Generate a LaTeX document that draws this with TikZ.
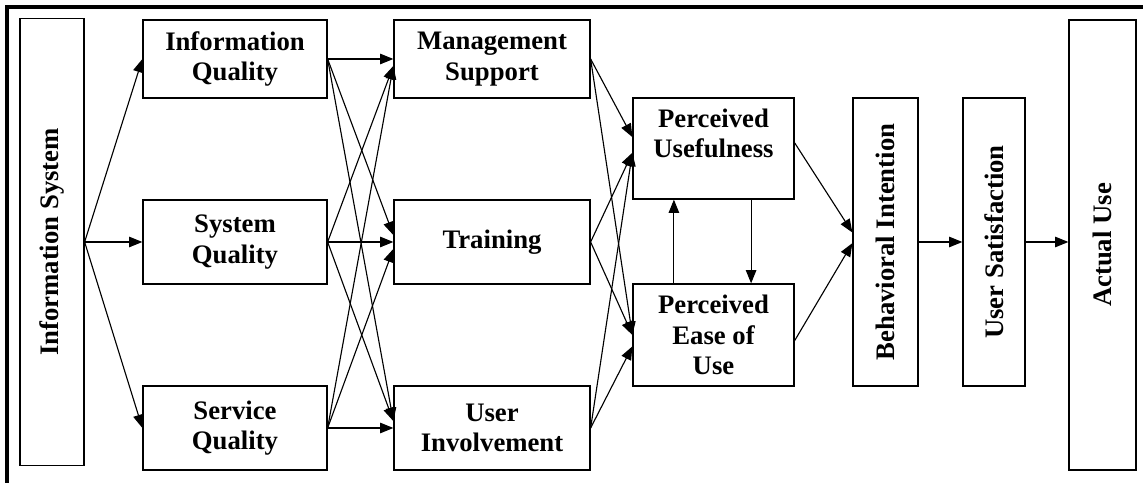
\documentclass[tikz,border=0pt]{standalone}
\usepackage{fontspec}
\setmainfont{Liberation Serif}
\usepackage{tikz}
\usetikzlibrary{arrows.meta}
\newcommand{\Vt}[1]{\rotatebox{90}{#1}}
\tikzset{
  block/.style={draw, align=center, font=\fontsize{19}{21.5}\selectfont\bfseries, line width=0.9pt,
                inner sep=2pt, minimum width=4.6cm, minimum height=2.1cm},
  mid/.style={block, minimum width=4.9cm},
  perc/.style={block, minimum width=4.025cm, minimum height=2.55cm},
  column/.style={draw, font=\fontsize{19}{21.5}\selectfont\bfseries, line width=0.9pt, inner sep=0pt},
  flow/.style={-{Triangle[length=9.5pt, width=7.5pt]}, line width=0.8pt},
  pageframe/.style={line width=2.6pt},
}

\begin{document}
\begin{tikzpicture}
    \useasboundingbox (0,0) rectangle (28.575,12.075);
    \draw[pageframe] (0.175,0) -- (0.175,11.9) -- (28.575,11.9);

    \node[column, minimum width=1.6cm, minimum height=11.175cm] (is) at (1.3,6.025) {\Vt{Information System}};
    \node[block, minimum height=1.95cm] (iq) at (5.875,10.6) {Information\\Quality};
    \node[block]  (sq)  at (5.875,6.025) {System\\Quality};
    \node[block]  (svq) at (5.875,1.375) {Service\\Quality};
    \node[mid, minimum height=1.95cm] (ms) at (12.3,10.6) {Management\\Support};
    \node[mid]    (tr)  at (12.3,6.025)  {Training};
    \node[mid]    (ui)  at (12.3,1.375)  {User\\Involvement};
    \node[perc, minimum height=2.525cm] (pu) at (17.8375,8.3625) {Perceived\\Usefulness\\~};
    \node[perc]   (peou) at (17.8375,3.7) {Perceived\\Ease of\\Use};
    \node[column, minimum width=1.625cm, minimum height=7.2cm] (bi) at (22.1375,6.025) {\Vt{Behavioral Intention}};
    \node[column, minimum width=1.55cm, minimum height=7.2cm]  (us) at (24.85,6.025)   {\Vt{User Satisfaction}};
    \node[column, minimum width=1.675cm, minimum height=11.25cm] (au) at (27.5625,5.95) {\Vt{Actual Use}};

    \foreach \t in {iq,sq,svq}
      \draw[flow] (is.east) -- (\t.west);
    \foreach \s/\t/\a in {iq/ms/180, iq/tr/176, iq/ui/176,
                          sq/ms/184, sq/tr/180, sq/ui/176,
                          svq/ms/184, svq/tr/184, svq/ui/180}
      \draw[flow] (\s.east) -- (\t.\a);
    \foreach \s/\a/\b in {ms/172/180, tr/183/180, ui/183/188} {
      \draw[flow] (\s.east) -- (pu.\a);
      \draw[flow] (\s.east) -- (peou.\b);
    }
    \draw[flow] ([xshift=-0.99cm]peou.north) -- ([xshift=-0.99cm]pu.south);
    \draw[flow] ([xshift=0.94cm]pu.south) -- ([xshift=0.94cm]peou.north);
    \draw[flow] (pu.4) -- (bi.164);
    \draw[flow] (peou.356) -- (bi.182);
    \draw[flow] (bi.east) -- (us.west);
    \draw[flow] (us.east) -- (us.east -| au.west);
  \end{tikzpicture}
\end{document}
